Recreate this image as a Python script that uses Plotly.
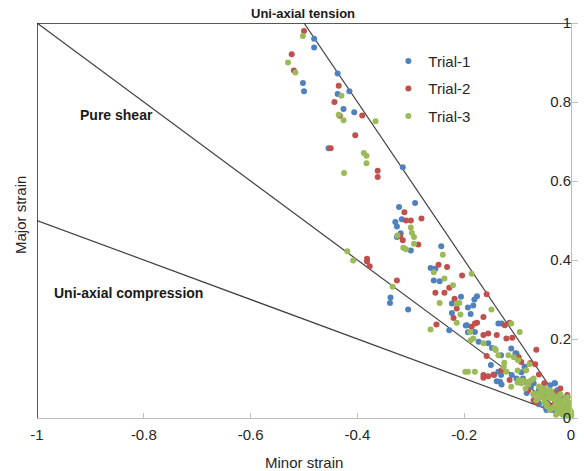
import plotly.graph_objects as go

# Forming-limit style strain data: (minor strain, major strain) per trial
trial1_minor = [-0.481, -0.481, -0.502, -0.500, -0.437, -0.437, -0.415, -0.426, -0.406, -0.454,
                -0.315, -0.322, -0.292, -0.317, -0.329, -0.326, -0.319, -0.326, -0.300, -0.338,
                -0.339, -0.305, -0.243, -0.263, -0.254, -0.257, -0.246, -0.206, -0.223, -0.223,
                -0.176, -0.181, -0.183, -0.188, -0.228, -0.195, -0.193, -0.180, -0.173, -0.197,
                -0.155, -0.136, -0.130, -0.112, -0.102, -0.087, -0.136, -0.133, -0.102, -0.075,
                -0.031, -0.060, -0.045, -0.020, -0.010, -0.005, -0.035, -0.015, -0.003, -0.060,
                -0.139, -0.193, -0.026, -0.022, -0.046, -0.130, -0.145, -0.090, -0.070, -0.012,
                -0.148, -0.131, -0.104, -0.150, -0.131, -0.111, -0.093, -0.070, -0.039, -0.030,
                -0.024, -0.083, -0.061, -0.048, -0.009, -0.015]
trial1_major = [0.960, 0.938, 0.848, 0.827, 0.872, 0.820, 0.827, 0.782, 0.774, 0.683,
                0.635, 0.534, 0.544, 0.503, 0.496, 0.485, 0.468, 0.458, 0.424, 0.305,
                0.291, 0.275, 0.435, 0.380, 0.378, 0.348, 0.346, 0.307, 0.290, 0.266,
                0.308, 0.300, 0.285, 0.263, 0.222, 0.235, 0.217, 0.218, 0.193, 0.234,
                0.189, 0.239, 0.239, 0.176, 0.163, 0.130, 0.117, 0.092, 0.100, 0.079,
                0.088, 0.070, 0.055, 0.045, 0.030, 0.015, 0.020, 0.010, 0.005, 0.035,
                0.093, 0.280, 0.070, 0.045, 0.020, 0.085, 0.110, 0.100, 0.060, 0.025,
                0.177, 0.159, 0.164, 0.134, 0.109, 0.109, 0.116, 0.088, 0.083, 0.088,
                0.066, 0.063, 0.038, 0.028, 0.013, 0.050]

trial2_minor = [-0.500, -0.523, -0.519, -0.435, -0.443, -0.433, -0.391, -0.404, -0.450, -0.362,
                -0.362, -0.312, -0.309, -0.300, -0.280, -0.320, -0.315, -0.286, -0.382, -0.382,
                -0.377, -0.326, -0.248, -0.232, -0.254, -0.237, -0.228, -0.204, -0.218, -0.214,
                -0.220, -0.252, -0.176, -0.186, -0.164, -0.164, -0.158, -0.180, -0.155, -0.124,
                -0.121, -0.139, -0.158, -0.093, -0.065, -0.164, -0.155, -0.115, -0.115, -0.110,
                -0.067, -0.164, -0.050, -0.007, -0.007, -0.030, -0.015, -0.040, -0.080, -0.003,
                -0.060, -0.025, -0.100, -0.070, -0.098, -0.076, -0.130, -0.144, -0.085, -0.046,
                -0.065, -0.020, -0.035]
trial2_major = [0.980, 0.921, 0.880, 0.841, 0.800, 0.765, 0.766, 0.716, 0.683, 0.626,
                0.610, 0.521, 0.500, 0.500, 0.505, 0.460, 0.450, 0.439, 0.403, 0.396,
                0.384, 0.348, 0.388, 0.382, 0.317, 0.317, 0.330, 0.361, 0.302, 0.277,
                0.253, 0.237, 0.241, 0.231, 0.256, 0.210, 0.313, 0.239, 0.214, 0.235,
                0.201, 0.210, 0.157, 0.142, 0.173, 0.109, 0.106, 0.096, 0.241, 0.203,
                0.136, 0.102, 0.088, 0.058, 0.054, 0.040, 0.020, 0.030, 0.070, 0.010,
                0.110, 0.060, 0.150, 0.045, 0.154, 0.139, 0.121, 0.109, 0.121, 0.053,
                0.040, 0.075, 0.065]

trial3_minor = [-0.502, -0.530, -0.516, -0.430, -0.435, -0.426, -0.366, -0.388, -0.383, -0.383,
                -0.425, -0.300, -0.298, -0.325, -0.294, -0.294, -0.314, -0.309, -0.419, -0.408,
                -0.334, -0.240, -0.257, -0.237, -0.221, -0.186, -0.246, -0.214, -0.209, -0.207,
                -0.214, -0.263, -0.189, -0.183, -0.188, -0.149, -0.112, -0.164, -0.143, -0.136,
                -0.099, -0.084, -0.096, -0.078, -0.198, -0.193, -0.180, -0.121, -0.112, -0.093,
                -0.065, -0.038, -0.031, -0.007, -0.020, -0.050, -0.012, -0.025, -0.040, -0.003,
                0.000, -0.060, -0.070, -0.045, -0.015, -0.100, -0.125, -0.055, -0.035, -0.010,
                -0.028, -0.018, -0.005, -0.042, -0.075,
                -0.055, -0.050, -0.045, -0.040, -0.040, -0.035, -0.030, -0.030, -0.028, -0.025,
                -0.022, -0.020, -0.018, -0.015, -0.012, -0.010, -0.008, -0.005, -0.004, -0.002,
                -0.050, -0.060, -0.045, -0.035, -0.025, -0.020, -0.015, -0.006, 0.000, 0.000,
                -0.065, -0.070, -0.080, -0.085, -0.100, -0.090, -0.117, -0.107, -0.126, -0.098,
                -0.083, -0.141, -0.056, -0.006]
trial3_major = [0.967, 0.900, 0.875, 0.816, 0.768, 0.754, 0.751, 0.671, 0.664, 0.645,
                0.620, 0.482, 0.469, 0.462, 0.458, 0.441, 0.431, 0.427, 0.422, 0.399,
                0.332, 0.413, 0.369, 0.353, 0.336, 0.365, 0.291, 0.290, 0.291, 0.262,
                0.241, 0.224, 0.218, 0.201, 0.197, 0.275, 0.239, 0.189, 0.176, 0.159,
                0.146, 0.121, 0.218, 0.136, 0.117, 0.117, 0.117, 0.117, 0.079, 0.088,
                0.062, 0.068, 0.029, 0.020, 0.040, 0.050, 0.010, 0.015, 0.020, 0.003,
                0.010, 0.080, 0.100, 0.035, 0.030, 0.120, 0.140, 0.065, 0.050, 0.015,
                0.008, 0.025, 0.012, 0.060, 0.095,
                0.060, 0.075, 0.065, 0.050, 0.070, 0.060, 0.045, 0.055, 0.035, 0.050,
                0.030, 0.060, 0.045, 0.020, 0.035, 0.050, 0.010, 0.030, 0.040, 0.020,
                0.040, 0.050, 0.030, 0.025, 0.020, 0.012, 0.008, 0.005, 0.005, 0.015,
                0.045, 0.060, 0.085, 0.075, 0.090, 0.095, 0.159, 0.154, 0.129, 0.096,
                0.091, 0.172, 0.071, 0.053]

# Strain-path reference lines through the origin: major = slope * minor
path_minor_start = [-0.5, -1.0, -1.0]
path_slopes = [-2.0, -1.0, -0.5]

blue = "#4f81bd"
red = "#c0504d"
green = "#9bbb59"
ink = "#262626"
font_family = "Arial, Liberation Sans, sans-serif"

fig = go.Figure()

for x0, m in zip(path_minor_start, path_slopes):
    fig.add_trace(go.Scatter(x=[x0, 0], y=[m * x0, 0], mode="lines",
                             line=dict(color="#404040", width=1.2),
                             showlegend=False, hoverinfo="skip", cliponaxis=False))

for name, xs, ys, col in [("Trial-1", trial1_minor, trial1_major, blue),
                          ("Trial-2", trial2_minor, trial2_major, red),
                          ("Trial-3", trial3_minor, trial3_major, green)]:
    fig.add_trace(go.Scatter(x=xs, y=ys, mode="markers", name=name, legendgroup=name,
                             marker=dict(color=col, size=6, line=dict(width=0)),
                             cliponaxis=False))

# Frame lines along the top (major = 1) and left (minor = -1) edges
fig.add_shape(type="line", xref="x", yref="y", x0=-1, y0=1, x1=0, y1=1,
              line=dict(color="#202020", width=1.5))
fig.add_shape(type="line", xref="x", yref="y", x0=-1, y0=0, x1=-1, y1=1,
              line=dict(color="#202020", width=1.5))

fig.update_layout(
    width=584, height=471,
    margin=dict(l=37, r=7, t=23, b=53),
    paper_bgcolor="white", plot_bgcolor="white",
    font=dict(family=font_family, size=15, color=ink),
    xaxis=dict(range=[-1, 0], tickvals=[-1, -0.8, -0.6, -0.4, -0.2, 0],
               ticktext=["-1", "-0.8", "-0.6", "-0.4", "-0.2", "0"],
               showgrid=False, zeroline=False, showline=True, linecolor="#bfbfbf",
               linewidth=1, ticks="inside", ticklen=5, tickcolor="#bfbfbf",
               ticklabelstandoff=3, ticklabeloverflow="allow",
               tickfont=dict(size=15, color=ink)),
    yaxis=dict(range=[0, 1], side="right", tickvals=[0, 0.2, 0.4, 0.6, 0.8, 1],
               ticktext=["0", "0.2", "0.4", "0.6", "0.8", "1"],
               showgrid=False, zeroline=False, showline=True, linecolor="#bfbfbf",
               linewidth=1, ticks="outside", ticklen=6, tickcolor="#bfbfbf",
               ticklabelposition="inside", ticklabeloverflow="allow",
               tickfont=dict(size=15, color=ink)),
    legend=dict(x=0.658, y=0.945, xanchor="left", yanchor="top",
                bgcolor="rgba(0,0,0,0)", font=dict(size=15, color=ink),
                tracegroupgap=5),
    annotations=[
        dict(text="<b>Uni-axial tension</b>", xref="paper", yref="paper",
             x=(306 - 37) / 540, y=1.0, yshift=10, yanchor="middle", showarrow=False,
             font=dict(size=13, color="#1a1a1a")),
        dict(text="<b>Pure shear</b>", xref="paper", yref="paper",
             x=(78 - 37) / 540, y=(418 - 115) / 395, xanchor="left", yanchor="middle",
             showarrow=False, font=dict(size=14, color="#1a1a1a")),
        dict(text="<b>Uni-axial compression</b>", xref="paper", yref="paper",
             x=(52 - 37) / 540, y=(418 - 293) / 395, xanchor="left", yanchor="middle",
             showarrow=False, font=dict(size=14, color="#1a1a1a")),
        dict(text="Minor strain", xref="paper", yref="paper", x=0.5, y=0,
             yshift=-44, yanchor="middle", showarrow=False, font=dict(size=15, color=ink)),
        dict(text="Major strain", xref="paper", yref="paper", x=0, y=(418 - 215) / 395,
             xshift=-17, xanchor="center", yanchor="middle", textangle=-90,
             showarrow=False, font=dict(size=15, color=ink)),
    ],
)

fig.write_html("out.html")
